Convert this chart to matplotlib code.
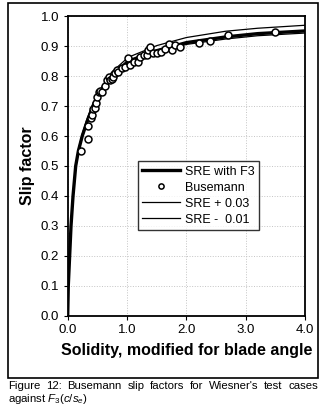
import matplotlib
matplotlib.use("Agg")
import matplotlib.pyplot as plt
from matplotlib.patches import Rectangle

plt.rcParams["font.family"] = ["Liberation Sans", "DejaVu Sans"]
plt.rcParams["mathtext.fontset"] = "custom"
plt.rcParams["mathtext.rm"] = "Liberation Sans"
plt.rcParams["mathtext.it"] = "Liberation Sans:italic"

# SRE with F3
sre_x = [0.0, 0.01, 0.033, 0.056, 0.09, 0.135, 0.18, 0.245, 0.33, 0.43, 0.57,
         0.74, 1.02, 1.5, 2.0, 2.66, 3.2, 4.0]
sre_y = [0.0, 0.1, 0.2, 0.3, 0.4, 0.5, 0.55, 0.6, 0.65, 0.7, 0.75,
         0.8, 0.85, 0.885, 0.912, 0.931, 0.942, 0.951]

# SRE + 0.03
plus_x = [0.0, 0.01, 0.033, 0.056, 0.09, 0.135, 0.18, 0.245, 0.33, 0.43, 0.57,
          0.74, 1.02, 1.5, 2.0, 2.66, 3.2, 4.0]
plus_y = [0.0, 0.1, 0.2, 0.3, 0.4, 0.5, 0.555, 0.607, 0.66, 0.712, 0.763,
          0.813, 0.863, 0.902, 0.929, 0.950, 0.960, 0.970]

# SRE - 0.01
minus_x = [0.0, 0.01, 0.033, 0.056, 0.09, 0.135, 0.18, 0.245, 0.33, 0.43, 0.57,
           0.74, 1.02, 1.5, 2.0, 2.66, 3.2, 4.0]
minus_y = [0.0, 0.1, 0.2, 0.3, 0.4, 0.5, 0.548, 0.597, 0.646, 0.696, 0.745,
           0.795, 0.845, 0.879, 0.906, 0.924, 0.935, 0.944]

# Busemann test cases
bus_x = [0.225, 0.337, 0.342, 0.39, 0.41, 0.42, 0.465, 0.48, 0.49, 0.53, 0.55,
         0.58, 0.63, 0.66, 0.69, 0.71, 0.74, 0.77, 0.80, 0.83, 0.85, 0.91,
         0.97, 1.02, 1.05, 1.11, 1.19, 1.22, 1.29, 1.33, 1.36, 1.38, 1.43,
         1.50, 1.58, 1.64, 1.70, 1.75, 1.81, 1.89, 2.22, 2.39, 2.70, 3.49]
bus_y = [0.55, 0.589, 0.633, 0.659, 0.67, 0.689, 0.692, 0.709, 0.731, 0.748, 0.75,
         0.746, 0.766, 0.786, 0.798, 0.787, 0.792, 0.798, 0.809, 0.82, 0.814, 0.826,
         0.831, 0.859, 0.837, 0.848, 0.848, 0.864, 0.87, 0.87, 0.889, 0.898, 0.876,
         0.876, 0.881, 0.892, 0.909, 0.889, 0.903, 0.898, 0.912, 0.918, 0.939, 0.948]

x_ticks = [0.0, 1.0, 2.0, 3.0, 4.0]
y_ticks = [0.0, 0.1, 0.2, 0.3, 0.4, 0.5, 0.6, 0.7, 0.8, 0.9, 1.0]

caption1 = "Figure 12: Busemann slip factors for Wiesner's test cases"
caption2 = r"against $F_3(c/s_e)$"

fig = plt.figure(figsize=(3.27, 4.13), dpi=100)
ax = fig.add_axes([0.207, 0.2356, 0.726, 0.725])

ax.plot(sre_x, sre_y, color="black", lw=2.4, label="SRE with F3", zorder=3)
ax.plot(bus_x, bus_y, "o", mfc="white", mec="black", mew=1.1, ms=5,
        label="Busemann", zorder=4)
ax.plot(plus_x, plus_y, color="black", lw=0.9, label="SRE + 0.03", zorder=3)
ax.plot(minus_x, minus_y, color="black", lw=0.9, label="SRE -  0.01", zorder=3)

ax.set_xlim(0, 4)
ax.set_ylim(0, 1)
ax.set_xticks(x_ticks)
ax.set_xticklabels([f"{t:.1f}" for t in x_ticks])
ax.set_yticks(y_ticks)
ax.set_yticklabels([f"{t:.1f}" for t in y_ticks])
ax.tick_params(labelsize=9.5, length=3, width=0.8, pad=3)
ax.grid(True, color="#c4c4c4", ls=":", lw=0.7)
for s in ax.spines.values():
    s.set_linewidth(1.3)

ax.set_xlabel("Solidity, modified for blade angle", fontsize=11.5,
              fontweight="bold", labelpad=5)
ax.set_ylabel("Slip factor", fontsize=11.5, fontweight="bold", labelpad=4)

leg = ax.legend(loc="upper left", bbox_to_anchor=(0.295, 0.515), fontsize=9,
                frameon=True, fancybox=False, edgecolor="black",
                handlelength=3.0, borderpad=0.35, labelspacing=0.32,
                handletextpad=0.4, borderaxespad=0, markerscale=0.75)
leg.get_frame().set_linewidth(1.0)

# outer frame around the figure panel
fig.patches.append(Rectangle((8 / 327, 1 - 378 / 413), 310 / 327, 375 / 413,
                             transform=fig.transFigure, fill=False,
                             edgecolor="black", lw=1.2))

# justified first caption line: place words one by one
renderer = fig.canvas.get_renderer()
words = caption1.split(" ")
left, right = 8 / 327, 318 / 327
y1 = 1 - 386 / 413
texts = [fig.text(0, y1, w, fontsize=8.2, va="center", ha="left") for w in words]
widths = [t.get_window_extent(renderer).width / fig.bbox.width for t in texts]
gap = (right - left - sum(widths)) / (len(words) - 1)
xpos = left
for t, w in zip(texts, widths):
    t.set_x(xpos)
    xpos += w + gap

fig.text(left, 1 - 399 / 413, caption2, fontsize=8.2, va="center", ha="left")

fig.savefig("out.png", dpi=100)
